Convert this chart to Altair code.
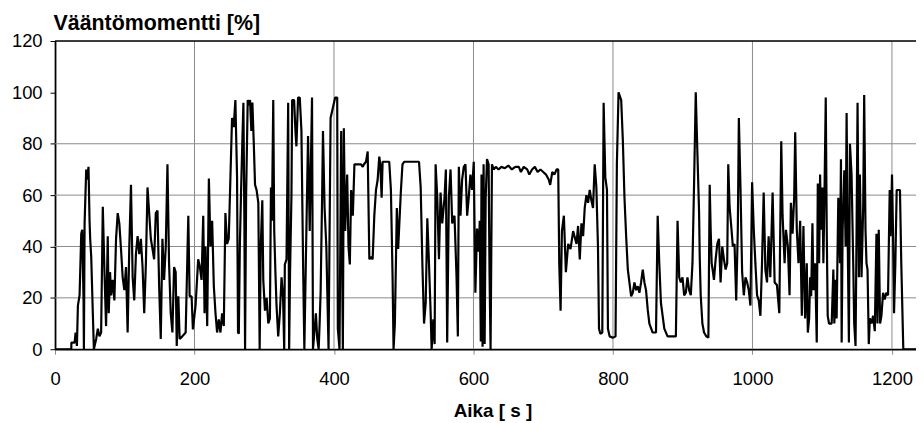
import altair as alt
import pandas as pd

# time [s]
time_s = [
    0, 23.3, 23.5, 28.1, 29.5, 31.4, 32.8, 35.2, 37.6, 39, 40.9, 41.4, 42.4, 44.7, 46.2, 48, 49.5, 50.4,
    51.9, 54.2, 55.7, 59, 61.4, 63.7, 66.1, 68.5, 70.9, 73.2, 75.6, 77, 78.9, 80.4, 82.7, 85.1, 87.5,
    89.9, 92.2, 94.6, 97, 99.4, 101.8, 104.1, 106.5, 108.9, 111.3, 113.6, 116, 118.4, 120.8, 123.1,
    125.5, 127.9, 130.3, 132.6, 135, 137.4, 139.8, 142.1, 144.5, 146.9, 149.3, 151.6, 154, 156.4,
    158.8, 161.2, 163.5, 165.9, 168.3, 170.7, 173, 174.5, 176.8, 178.7, 182.5, 187.3, 191.1, 193,
    195.8, 197.7, 201.5, 205.3, 207.7, 210.1, 212.5, 214.4, 215.8, 218.2, 220.6, 222.9, 225.3, 227.7,
    230.1, 232.4, 234.8, 237.2, 239.6, 242, 244.3, 246.7, 249.1, 251.4, 253.8, 256.2, 258.6, 261,
    262.4,
    263.5, 265, 266.8, 268.5, 270.1, 271.5, 272.5, 274, 276.3, 278, 279.6, 281.5, 283, 285, 286.8,
    289, 291.5, 293.4, 295, 297.2, 298.6, 301,
    303.4, 305.8, 308.1, 309.6, 311, 312.9, 314.3, 316, 317.6, 320, 322.4, 324.8, 327, 328.6, 329.5,
    331.9, 334.3, 335.7, 337, 339, 340, 342.8, 344.7, 346.1, 348.5, 350.9, 353.3, 355.7, 357.5, 360,
    362.8, 365.2, 368.5, 369.9, 372.3, 374, 376, 378, 379.4, 380.8, 383, 384.2, 386.5, 389, 392.2,
    395.1, 398.4, 401.7, 404.6, 405.5, 407.9, 410.3, 412.7, 414.1, 416, 418.9, 420.8, 422.7, 424.6,
    427, 429.3, 434, 438.8, 441.2, 443, 445.9, 448.3,
    450.7, 453, 455.4, 457.8, 460.2, 462.6, 464.9, 466.4, 468.3, 469.7, 474, 479.2, 481.6, 484,
    485.4, 487.3, 490.1, 492, 495.8, 498.2, 500.6, 505, 510, 515, 521.9, 524.3, 526.7, 529.1, 531.5,
    533.8, 536.2, 538.6, 540, 542.4, 544.3, 545.7, 548.1, 550.5, 552.8, 555.2, 558.5, 560.4, 562.3,
    564.7, 567.1, 569.5, 572.8, 575.7, 577.6, 579, 581.4, 583.7, 586.1, 588.5, 590.9, 593.2, 595.6,
    598, 600.4, 602.7, 605.1, 607.5,
    609, 610.5, 611.5, 613, 614.5, 616, 617.5, 619.4, 621.7, 623, 624.5, 626.5, 628.9, 632, 636, 640,
    645, 650, 655, 660, 665, 668, 672, 677, 680, 684, 688, 692, 696, 700, 704, 708, 710, 713, 716,
    719.2, 721.5, 723, 724.9, 726.8, 729.6, 732.5, 735.8, 739.1, 742.9, 747.7, 750, 752.4, 754.8,
    757.2, 759.5, 761.9, 764.3, 766.7, 769, 771.4, 773.8, 776.2, 778.5, 780, 781.9, 784.7, 786.6,
    789, 791.4, 792.8, 795.2, 799.9, 803.7, 805.6, 808, 811.8, 814.2, 816.5, 818.9, 821.3, 826.1,
    828.4, 830.8, 833.2, 835.6, 837.9, 840.3, 842.7, 845.1, 847.4, 849.8, 852.2, 856.9, 861.7, 864.1,
    866.4, 868.8, 873.6, 878.3, 883.1, 890.2, 892.6, 895, 897.3, 899.7, 902.1, 904.5, 906.8, 909.2,
    911.6, 914, 916.3, 918.7, 921.1, 923.5, 924.4, 925.8, 928.2, 930.6, 933.9, 936.8, 938.7, 940.1,
    941.5, 943.4, 944.8, 947.2, 949.6, 952, 954.3, 956.7, 959.1, 961.5, 963.8, 965.3, 967.2, 970,
    971.9, 974.3, 976.7, 979, 980.5, 982.9, 985.2, 987.6, 990, 992.4, 994.7, 997.1, 999.5, 1001.9,
    1004.2, 1006.6, 1009, 1011.4, 1013.7, 1016.1, 1018.5, 1020.9, 1023.2, 1025.6, 1028.9, 1031.8,
    1035.1, 1038.5, 1041.3, 1043.2, 1046.1, 1048, 1050.8, 1053.2, 1055.1, 1057.5, 1059.8, 1061.3,
    1063.6, 1066, 1068.4, 1070.8, 1073.1, 1075.5, 1077.9, 1079.4, 1081.3, 1082.7, 1084.2, 1086,
    1087.5, 1089.9, 1092.2, 1093.7, 1095.6, 1097, 1098.4, 1100.3, 1101.7, 1103.2, 1105.1, 1106.5,
    1107.9, 1109.8, 1113.6, 1116, 1117.4, 1119.3, 1120.7, 1123.1, 1125.5, 1126.9, 1127.9, 1129.3,
    1131.7, 1133.6, 1135, 1136.4, 1138.3, 1139.8, 1142.1, 1144.5, 1145.9, 1147.8, 1149.3, 1150.7,
    1152.6, 1154, 1156.4, 1158.8, 1160.2, 1162.1, 1163.5, 1165, 1166.8, 1168.3, 1170.6, 1173, 1175.4,
    1177.8, 1179.2, 1181.1, 1183, 1184.9, 1187.3, 1189.6, 1192, 1194.4, 1196.8, 1198.2, 1200.1,
    1201.5, 1203, 1204.9, 1206.8, 1211.5, 1213.4, 1216.3, 1234.5,
]

# torque [%]
torque_pct = [
    0, 0, 2.6, 2.6, 6.5, 1.3, 17, 21, 45, 46.5, 19, 0, 49, 70, 66, 71, 50, 43,
    36, 14, 0, 4, 8, 5, 6.5, 55.5, 30, 9, 44, 14, 30, 21, 27, 19, 43,
    53, 49, 39, 28, 23, 32, 6.5, 40, 64, 28, 19, 37, 44, 37, 43,
    32, 14, 33.5, 63, 53, 43, 39, 35, 53, 54, 24.5, 4, 43, 27,
    40, 72, 33.5, 14, 6.5, 32, 30, 1.3, 20.6, 4, 5, 6.5, 52, 20.6,
    20.6, 7.7, 17, 35, 32, 27, 52, 14, 40, 9, 66.5, 40, 50, 24.5,
    14, 6.5, 11.6, 6.5, 14, 9, 53, 41, 43, 66, 90, 86.5, 97, 67,
    6.5,
    6, 40, 62, 80, 96, 50, 0, 60, 97, 95, 97, 85, 96, 80, 64,
    62, 57, 0, 40, 58, 27, 15,
    20, 10, 12, 63, 50, 97, 46, 30, 17, 5, 14, 28, 20, 0, 33,
    35, 96, 0, 30, 60, 97, 97, 85, 79, 98, 98, 85, 33, 0, 40,
    83, 46, 98, 0, 8, 14, 4, 0, 10, 22, 60, 85, 55, 40, 0,
    90, 94, 98, 98, 8, 0, 85, 0, 86, 46, 68, 40, 33, 62,
    52, 72, 72, 72, 71, 72, 73, 77,
    35, 36, 35, 52, 62, 66, 75, 72, 59, 73, 73, 73, 62, 28,
    0, 10, 55, 39, 61, 72, 73, 73, 73, 73, 73, 63, 33.5, 10, 18,
    51, 33.5, 14, 0, 11.6, 2, 72, 59, 35, 61, 49, 59, 70, 2.6,
    59, 70, 49, 52, 28, 5, 71, 52, 66, 71, 72, 52, 59, 68,
    62, 73, 22, 47, 38,
    50, 3, 68, 1, 72, 2, 59, 74, 72, 30, 0, 72, 70, 71, 70, 71,
    70.5, 71.5, 70, 71, 71, 69, 71, 70, 68, 70, 71, 69, 70, 69, 68, 66, 64, 69, 68,
    70, 70, 33, 15, 46, 52, 30, 41, 39, 46, 41, 48, 35, 49,
    44, 55, 60, 57, 62, 58, 55, 72, 63, 40, 8, 6, 6.5, 96,
    67, 62, 8, 5, 4.5, 5, 72, 100, 97, 81, 59, 44, 31, 20.6,
    22, 26, 23, 24.5, 22, 26, 31, 26, 23, 15.5, 10, 6.5, 6.5, 52,
    33.5, 18, 8, 5, 5, 5, 50, 28, 26, 28, 21, 22, 28, 23,
    21, 33.5, 64.5, 100, 76, 53, 36, 21, 10, 6.5, 5, 4.5, 64, 46.5,
    33.5, 30, 27, 35, 41, 43, 26, 40, 35, 31, 33.5, 72, 55.5, 46.5,
    40, 41, 19, 46.5, 90, 62, 30, 21, 28, 26, 23, 17, 65, 46.5,
    33.5, 21, 19, 13, 33.5, 61, 31, 26, 44, 28, 61, 26,
    25, 14, 81, 52, 33.5, 46.5, 40, 21, 57, 45, 59, 84.5,
    46.5, 33.5, 50, 13, 48, 12, 33.5, 6.5, 12, 28, 20.6, 49,
    23, 33.5, 2.6, 64.5, 33.5, 68, 46.5, 63, 33.5, 59, 98, 46.5,
    13, 10, 10, 31, 10, 27, 12, 59, 33.5, 74, 2.6, 46.5,
    69.7, 40, 92, 46.5, 2.6, 80, 68, 33.5, 10, 1.3, 46.5, 96,
    28, 68, 28, 55.5, 99, 46.5, 33.5, 31, 2, 12, 10, 13, 7,
    45, 10, 46.5, 10, 13, 22, 19.4, 22, 21, 62, 44, 68,
    46.5, 14, 33.5, 62, 62, 33.5, 0, 0,
]

x_ticks = [0, 200, 400, 600, 800, 1000, 1200]
y_ticks = [0, 20, 40, 60, 80, 100, 120]
h_grid = [20, 40, 60, 80]
v_grid = [200, 400, 600, 800, 1000, 1200]
top_border = [120]

FONT = "Liberation Sans"
GRID = "#8a8a8a"

df = pd.DataFrame({"t": time_s, "v": torque_pct})

xs = alt.Scale(domain=[0, 1234.5], nice=False, zero=False)
ys = alt.Scale(domain=[0, 120], nice=False)

x_axis = alt.Axis(
    values=x_ticks,
    format="d",
    title="Aika [ s ]",
    grid=False,
    domainColor="black",
    domainWidth=1.8,
    tickColor=GRID,
    tickSize=5,
    tickWidth=1,
    labelFont=FONT,
    labelFontSize=18.5,
    labelColor="black",
    labelPadding=15,
    labelFlush=False,
    titleFont=FONT,
    titleFontSize=19,
    titleFontWeight="bold",
    titleColor="black",
    titleX=440,
    titleY=68,
    titleBaseline="alphabetic",
    titleAlign="center",
)

y_axis = alt.Axis(
    values=y_ticks,
    format="d",
    title="Vääntömomentti [%]",
    grid=False,
    domainColor="black",
    domainWidth=1.8,
    tickColor="black",
    tickSize=5,
    tickWidth=1,
    labelFont=FONT,
    labelFontSize=18.5,
    labelColor="black",
    labelPadding=8,
    labelFlush=False,
    titleFont=FONT,
    titleFontSize=21.5,
    titleFontWeight="bold",
    titleColor="black",
    titleAngle=0,
    titleAlign="left",
    titleBaseline="alphabetic",
    titleX=-2,
    titleY=-12,
)

line = alt.Chart(df).mark_line(
    color="black", strokeWidth=2.2, strokeJoin="bevel", clip=True
).encode(
    x=alt.X("t:Q", scale=xs, axis=x_axis),
    y=alt.Y("v:Q", scale=ys, axis=y_axis),
)

vgrid = alt.Chart(pd.DataFrame({"t": v_grid})).mark_rule(
    color=GRID, strokeWidth=1
).encode(x=alt.X("t:Q", scale=xs, axis=x_axis))

hgrid = alt.Chart(pd.DataFrame({"v": h_grid})).mark_rule(
    color=GRID, strokeWidth=1
).encode(y=alt.Y("v:Q", scale=ys, axis=y_axis))

top = alt.Chart(pd.DataFrame({"v": top_border})).mark_rule(
    color="black", strokeWidth=1.5
).encode(y=alt.Y("v:Q", scale=ys, axis=y_axis))

chart = alt.layer(vgrid, hgrid, line, top).properties(
    width=866,
    height=310,
    autosize=alt.AutoSizeParams(type="none"),
    padding={"left": 47.3, "top": 32, "right": 0, "bottom": 73},
).configure_view(stroke=None).configure(background="white")

chart.save("out.html", embed_options={"renderer": "svg", "actions": False})
